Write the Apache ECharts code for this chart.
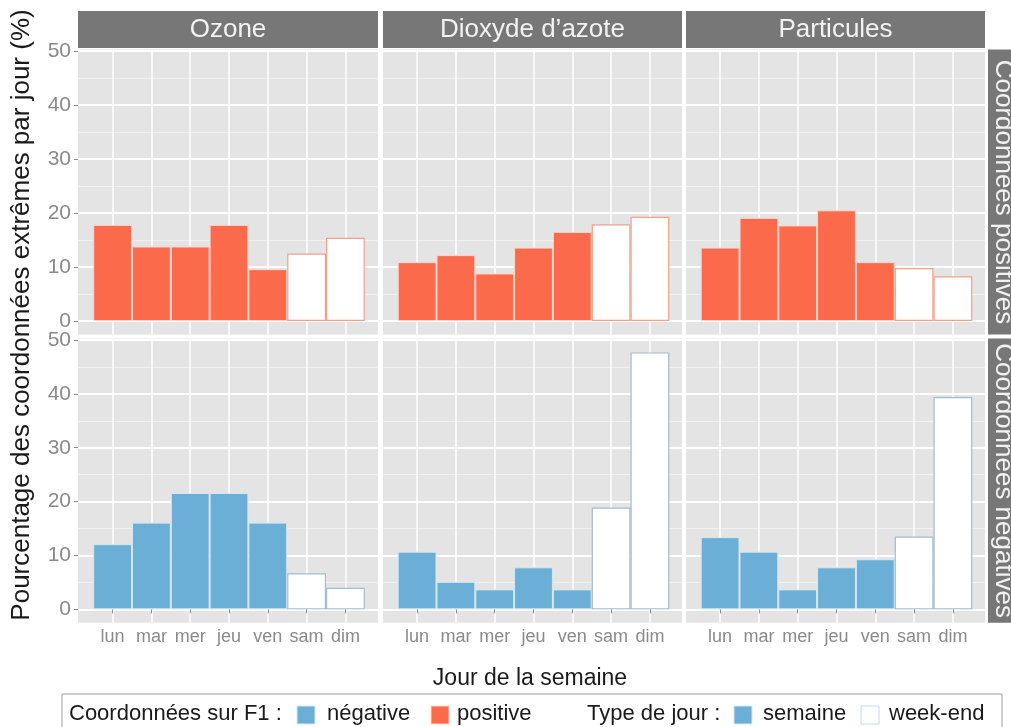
<!DOCTYPE html>
<html>
<head>
<meta charset="utf-8">
<script src="https://cdn.jsdelivr.net/npm/echarts@6/dist/echarts.min.js"></script>
<style>
  html, body { margin: 0; padding: 0; background: #fff; }
  #chart { width: 1011px; height: 727px; }
</style>
</head>
<body>
<div id="chart"></div>
<script>
// données (% par jour)
const days = ['lun', 'mar', 'mer', 'jeu', 'ven', 'sam', 'dim'];
const isWeekend = [false, false, false, false, false, true, true];
const pollutants = ['Ozone', 'Dioxyde d’azote', 'Particules'];
const rowLabels = ['Coordonnées positives', 'Coordonnées négatives'];

const ozonePos = [17.8, 13.8, 13.8, 17.8, 9.6, 12.5, 15.4];
const no2Pos = [10.9, 12.2, 8.8, 13.6, 16.5, 17.9, 19.3];
const pmPos = [13.6, 19.1, 17.7, 20.5, 10.9, 9.8, 8.3];
const ozoneNeg = [12.1, 16.1, 21.6, 21.6, 16.1, 6.7, 4.0];
const no2Neg = [10.7, 5.1, 3.7, 7.8, 3.7, 18.9, 47.7];
const pmNeg = [13.4, 10.7, 3.7, 7.8, 9.3, 13.5, 39.4];
const yTicks = [0, 10, 20, 30, 40, 50];

const rows = [[ozonePos, no2Pos, pmPos], [ozoneNeg, no2Neg, pmNeg]];

// mise en page (px)
const FONT = 'Liberation Sans, Arial, sans-serif';
const colLeft = [78, 383, 686];
const colWidth = [300, 299, 299];
const rowTop = [49.4, 338.4];
const rowHeight = [285.1, 284.4];
const band = 38.8;
const Y_MIN = -2.5, Y_MAX = 50.3;

const fillColor = ['#fb6a4a', '#6baed6'];
const edgeWeekday = ['#fcd6cc', '#d3e8f4'];
const edgeWeekend = ['#f2a08e', '#a5bccc'];
const T = 'rgba(0,0,0,0)';

const grid = [], xAxis = [], yAxis = [], series = [];

rows.forEach((vals, r) => {
  vals.forEach((values, c) => {
    // fond du panneau + grille horizontale
    const bg = grid.length;
    grid.push({ left: colLeft[c], top: rowTop[r], width: colWidth[c], height: rowHeight[r],
      show: true, backgroundColor: '#e4e4e4', borderWidth: 0 });
    xAxis.push({ gridIndex: bg, type: 'value', show: false, min: 0, max: 1 });
    const base = { gridIndex: bg, type: 'value', position: 'left', min: Y_MIN, max: Y_MAX, interval: 2.5,
      axisLine: { show: false }, axisTick: { show: false }, axisLabel: { show: false } };
    yAxis.push(Object.assign({}, base, { splitLine: { show: true, lineStyle: { color: [T, '#ffffff', T, T], width: 2 } } }));
    yAxis.push(Object.assign({}, base, { splitLine: { show: true, lineStyle: { color: [T, T, T, '#f1f1f1'], width: 1 } } }));
    if (c === 0) {
      yAxis.push({ gridIndex: bg, type: 'value', position: 'left', min: Y_MIN, max: Y_MAX,
        axisLine: { show: false }, splitLine: { show: false },
        axisTick: { show: true, customValues: yTicks, length: 4, lineStyle: { color: '#8a8a8a', width: 1 } },
        axisLabel: { show: true, customValues: yTicks, margin: 7, fontSize: 21, fontFamily: FONT, color: '#8a8a8a' } });
    }

    // barres
    const g = grid.length;
    const center = colLeft[c] + colWidth[c] / 2 + 1;
    grid.push({ left: center - 3 * band, top: rowTop[r], width: 6 * band, height: rowHeight[r] });
    const xi = xAxis.length;
    xAxis.push({ gridIndex: g, type: 'category', data: days, boundaryGap: false,
      axisLine: { show: false },
      axisTick: { show: r === 1, interval: 0, length: 4, lineStyle: { color: '#8a8a8a' } },
      axisLabel: { show: r === 1, interval: 0, margin: 5, fontSize: 18, fontFamily: FONT, color: '#8a8a8a' },
      splitLine: { show: true, interval: 0, lineStyle: { color: '#ffffff', width: 1.5 } } });
    const yi = yAxis.length;
    yAxis.push({ gridIndex: g, type: 'value', min: Y_MIN, max: Y_MAX, show: false });
    series.push({
      type: 'bar', xAxisIndex: xi, yAxisIndex: yi, barCategoryGap: '0%', clip: false,
      name: rowLabels[r] + ' ' + pollutants[c],
      data: values.map((v, i) => ({
        value: v,
        itemStyle: isWeekend[i]
          ? { color: '#ffffff', borderColor: edgeWeekend[r], borderWidth: 1.2 }
          : { color: fillColor[r], borderColor: edgeWeekday[r], borderWidth: 1 }
      }))
    });
  });
});

// bandeaux de facettes, titres et légende
const elements = [];
pollutants.forEach((p, c) => {
  elements.push({ type: 'rect', shape: { x: colLeft[c], y: 11, width: colWidth[c], height: 37 }, style: { fill: '#777777' } });
  elements.push({ type: 'text', x: colLeft[c] + colWidth[c] / 2, y: 30,
    style: { text: p, font: '26px ' + FONT, fill: '#f2f2f2', textAlign: 'center', textVerticalAlign: 'middle' } });
});
rowLabels.forEach((lab, r) => {
  elements.push({ type: 'rect', shape: { x: 988, y: rowTop[r], width: 40, height: rowHeight[r] }, style: { fill: '#777777' } });
  elements.push({ type: 'text', x: 1003, y: rowTop[r] + rowHeight[r] / 2, rotation: -Math.PI / 2,
    style: { text: lab, font: '26px ' + FONT, fill: '#f2f2f2', textAlign: 'center', textVerticalAlign: 'middle' } });
});
elements.push({ type: 'text', x: 22, y: 315, rotation: Math.PI / 2,
  style: { text: 'Pourcentage des coordonnées extrêmes par jour (%)', font: '26px ' + FONT, fill: '#1a1a1a',
    textAlign: 'center', textVerticalAlign: 'middle' } });
elements.push({ type: 'text', x: 530, y: 679,
  style: { text: 'Jour de la semaine', font: '23px ' + FONT, fill: '#1a1a1a', textAlign: 'center', textVerticalAlign: 'middle' } });

// légende
elements.push({ type: 'rect', shape: { x: 62, y: 694, width: 940, height: 45 }, style: { fill: '#ffffff', stroke: '#a0a0a0', lineWidth: 1 } });
const legendTexts = [
  { x: 69, text: 'Coordonnées sur F1 :' },
  { x: 327, text: 'négative' },
  { x: 457, text: 'positive' },
  { x: 587, text: 'Type de jour :' },
  { x: 763, text: 'semaine' },
  { x: 889, text: 'week-end' }
];
legendTexts.forEach(t => elements.push({ type: 'text', x: t.x, y: 714,
  style: { text: t.text, font: '22px ' + FONT, fill: '#1a1a1a', textAlign: 'left', textVerticalAlign: 'middle' } }));
const swatches = [
  { x: 297, fill: fillColor[1], stroke: edgeWeekday[1] },
  { x: 431, fill: fillColor[0], stroke: edgeWeekday[0] },
  { x: 734, fill: fillColor[1], stroke: edgeWeekday[1] },
  { x: 861, fill: '#ffffff', stroke: '#c4dcea' }
];
swatches.forEach(s => elements.push({ type: 'rect', shape: { x: s.x, y: 706, width: 18, height: 18 },
  style: { fill: s.fill, stroke: s.stroke, lineWidth: 1 } }));

const chart = echarts.init(document.getElementById('chart'), null, { renderer: 'canvas' });
chart.setOption({
  animation: false,
  backgroundColor: '#ffffff',
  grid, xAxis, yAxis, series,
  graphic: { elements }
});
</script>
</body>
</html>
